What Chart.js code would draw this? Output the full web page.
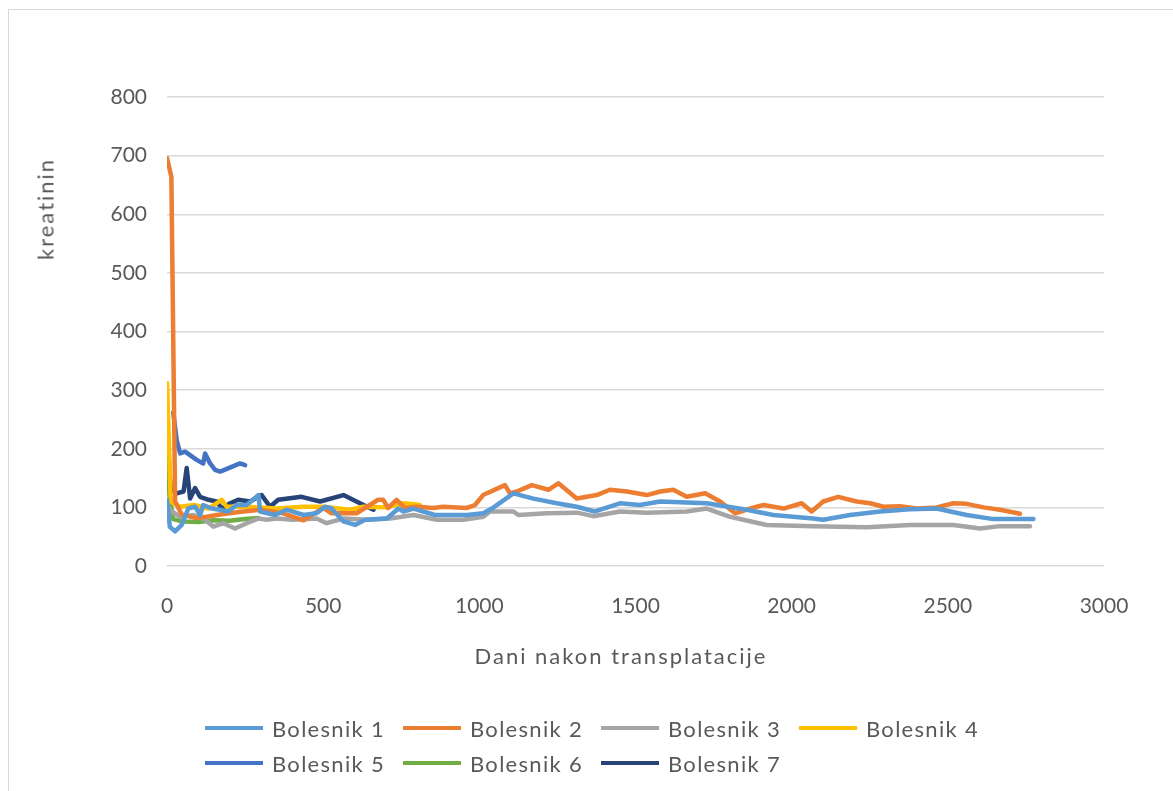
<!DOCTYPE html>
<html>
<head>
<meta charset="utf-8">
<script src="https://cdn.jsdelivr.net/npm/chart.js@4.4.1/dist/chart.umd.min.js"></script>
<style>
  body { margin: 0; background: #fff; }
  #wrap { position: relative; width: 1173px; height: 791px; overflow: hidden; font-family: Lato, sans-serif; color: #595959; }
  #frame { position: absolute; left: 8px; top: 9px; width: 1300px; height: 900px; border: 1px solid #d9d9d9; }
  #chart { position: absolute; left: 0; top: 0; }
  .title { position: absolute; font-size: 22px; letter-spacing: 2px; white-space: nowrap; }
  #ytitle { left: 45px; top: 209px; transform: translate(-50%, -50%) rotate(-90deg); }
  #xtitle { left: 621px; top: 655px; transform: translate(-50%, -50%); }
  .leg { position: absolute; height: 30px; display: flex; align-items: center; font-size: 22px; letter-spacing: 1.3px; white-space: nowrap; }
  .leg span.ln { display: inline-block; width: 58px; height: 4px; margin-right: 9px; }
</style>
</head>
<body>
<div id="wrap">
  <div id="frame"></div>
  <canvas id="chart" width="1173" height="791"></canvas>
  <div class="title" id="ytitle">kreatinin</div>
  <div class="title" id="xtitle">Dani nakon transplatacije</div>
  <div id="legend"></div>
</div>
<script>
// days after transplant and creatinine, one pair of arrays per patient
let days1 = [0, 9, 26, 47, 68, 90, 106, 116, 143, 170, 196, 223, 255, 293, 298, 346, 383, 437, 479, 506, 527, 565, 602, 634, 704, 741, 757, 789, 858, 960, 1013, 1040, 1109, 1173, 1248, 1312, 1370, 1450, 1514, 1579, 1728, 1856, 1941, 2069, 2101, 2187, 2283, 2379, 2464, 2560, 2646, 2774];
let kreat1 = [113, 67, 59, 70, 98, 101, 87, 104, 98, 96, 93, 104, 104, 121, 93, 87, 96, 87, 90, 101, 98, 76, 70, 79, 81, 98, 93, 98, 87, 87, 90, 98, 124, 115, 107, 101, 93, 107, 104, 110, 107, 96, 87, 81, 79, 87, 93, 97, 98, 87, 80, 80];

let days2 = [0, 14, 26, 47, 90, 127, 170, 230, 298, 370, 437, 500, 527, 607, 676, 692, 708, 735, 762, 800, 852, 884, 960, 986, 1012, 1082, 1098, 1120, 1168, 1221, 1253, 1312, 1376, 1418, 1472, 1536, 1579, 1621, 1664, 1723, 1771, 1819, 1867, 1910, 1974, 2032, 2064, 2101, 2149, 2208, 2251, 2294, 2347, 2400, 2464, 2518, 2560, 2614, 2667, 2731];
let kreat2 = [696, 664, 110, 88, 82, 84, 88, 92, 96, 90, 78, 99, 90, 90, 113, 113, 99, 113, 99, 101, 99, 101, 99, 104, 121, 138, 124, 127, 138, 130, 141, 115, 121, 130, 127, 121, 127, 130, 118, 124, 110, 90, 98, 104, 98, 107, 93, 110, 118, 110, 107, 101, 102, 98, 100, 107, 106, 100, 96, 89];

let days3 = [0, 10, 42, 85, 122, 149, 180, 218, 255, 293, 319, 351, 404, 479, 511, 565, 640, 714, 789, 864, 949, 1013, 1034, 1109, 1125, 1216, 1312, 1365, 1450, 1536, 1664, 1728, 1803, 1920, 2069, 2240, 2379, 2518, 2603, 2667, 2763];
let kreat3 = [105, 95, 84, 87, 79, 67, 73, 64, 73, 81, 79, 81, 79, 81, 73, 81, 79, 81, 87, 79, 79, 84, 93, 93, 87, 90, 91, 85, 93, 91, 93, 98, 84, 70, 68, 66, 70, 70, 64, 68, 68];

let days4 = [0, 12, 42, 85, 133, 175, 191, 255, 351, 437, 501, 586, 629, 700, 760, 810];
let kreat4 = [312, 110, 101, 104, 98, 113, 101, 101, 98, 101, 101, 96, 101, 100, 107, 104];

let days5 = [20, 31, 42, 58, 95, 116, 122, 138, 154, 170, 207, 234, 250];
let kreat5 = [262, 215, 192, 195, 181, 175, 192, 175, 164, 161, 169, 175, 172];

let days6 = [0, 8, 20, 50, 100, 150, 200, 250, 293];
let kreat6 = [198, 120, 80, 76, 75, 78, 77, 80, 82];

let days7 = [0, 12, 31, 53, 63, 74, 90, 106, 133, 159, 175, 202, 228, 266, 303, 330, 356, 431, 490, 565, 629, 661];
let kreat7 = [225, 130, 124, 127, 167, 115, 133, 118, 113, 110, 98, 107, 113, 110, 121, 101, 113, 118, 110, 121, 104, 96];

let seriesNames = ["Bolesnik 1", "Bolesnik 2", "Bolesnik 3", "Bolesnik 4", "Bolesnik 5", "Bolesnik 6", "Bolesnik 7"];
let seriesDays = [days1, days2, days3, days4, days5, days6, days7];
let seriesKreat = [kreat1, kreat2, kreat3, kreat4, kreat5, kreat6, kreat7];
let colours = ["#5B9BD5", "#ED7D31", "#A5A5A5", "#FFC000", "#4472C4", "#70AD47", "#264478"];

let datasets = seriesNames.map(function (name, i) {
  return {
    label: name,
    data: seriesDays[i].map(function (d, j) {
      return { x: d, y: seriesKreat[i][j] };
    }),
    borderColor: colours[i],
    backgroundColor: colours[i],
    borderWidth: 4.5,
    pointRadius: 0,
    tension: 0,
    borderJoinStyle: "round",
    borderCapStyle: "round",
  };
});

let tickFont = { family: "Lato", size: 21 };
// plain numbers, no thousands separator
let plainTick = function (value) { return String(value); };

new Chart(document.getElementById("chart").getContext("2d"), {
  type: "line",
  data: { datasets: datasets },
  options: {
    responsive: false,
    animation: false,
    layout: { padding: { left: 0, top: 97, right: 69, bottom: 0 } },
    plugins: {
      legend: { display: false },
      tooltip: { enabled: false },
    },
    scales: {
      x: {
        type: "linear",
        min: 0,
        max: 3000,
        ticks: { stepSize: 500, color: "#595959", font: tickFont, padding: 20, maxRotation: 0, callback: plainTick },
        grid: { display: false },
        border: { display: false },
        afterFit: function (scale) { scale.height = 225; },
      },
      y: {
        min: 0,
        max: 800,
        ticks: { stepSize: 100, color: "#595959", font: tickFont, padding: 20, callback: plainTick },
        grid: { color: "#D9D9D9", lineWidth: 1.5, drawTicks: false },
        border: { display: false },
        afterFit: function (scale) { scale.width = 167; },
      },
    },
  },
});

// legend laid out like the spreadsheet one: 4 columns, rows left aligned
let legend = document.getElementById("legend");
datasets.forEach(function (ds, i) {
  let item = document.createElement("div");
  item.className = "leg";
  item.style.left = (205 + (i % 4) * 198) + "px";
  item.style.top = (713 + Math.floor(i / 4) * 35) + "px";
  item.innerHTML = '<span class="ln" style="background:' + ds.borderColor + '"></span>' + ds.label;
  legend.appendChild(item);
});
</script>
</body>
</html>
